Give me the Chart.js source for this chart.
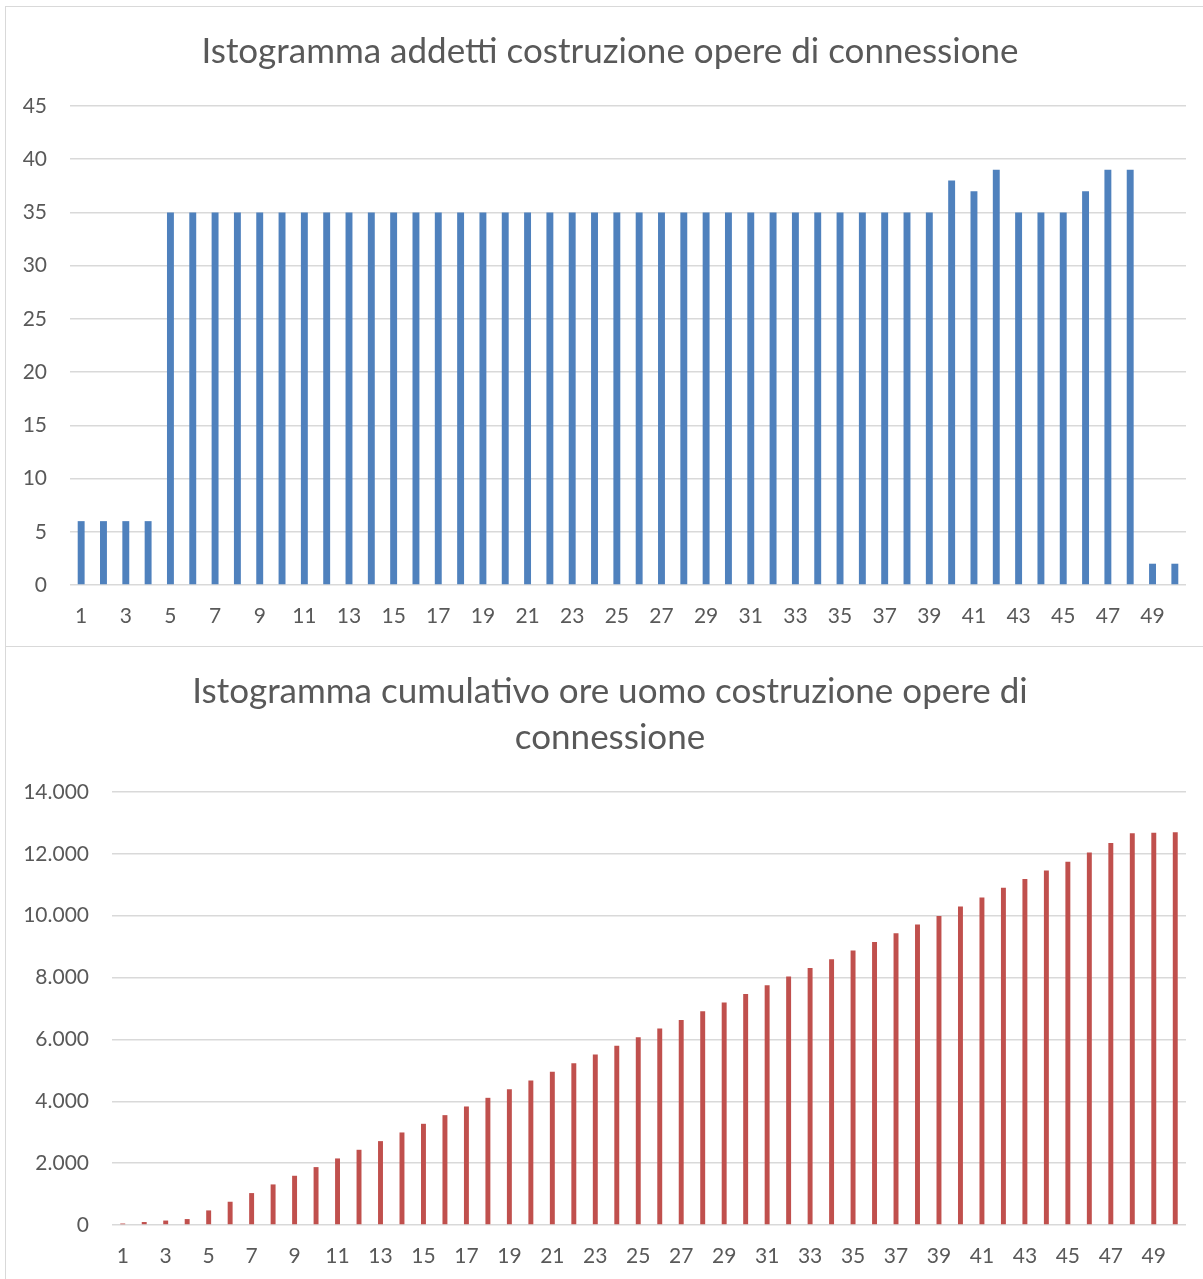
<!DOCTYPE html>
<html>
<head>
<meta charset="utf-8">
<script src="https://cdn.jsdelivr.net/npm/chart.js@4/dist/chart.umd.min.js"></script>
<style>
    html, body { margin: 0; padding: 0; background: #fff; overflow: hidden; }
    .box { position: absolute; left: 5px; width: 1209px; border: 1px solid #d9d9d9; background: #fff; }
    #box1 { top: 6px; height: 639px; }
    #box2 { top: 646px; height: 640px; }
    canvas { display: block; }
</style>
</head>
<body>
<div class="box" id="box1"><canvas id="addetti"></canvas></div>
<div class="box" id="box2"><canvas id="oreUomo"></canvas></div>
<script>
'use strict';

// settimane
const settimane = [1, 2, 3, 4, 5, 6, 7, 8, 9, 10, 11, 12, 13, 14, 15, 16, 17, 18, 19, 20,
    21, 22, 23, 24, 25, 26, 27, 28, 29, 30, 31, 32, 33, 34, 35, 36, 37, 38, 39, 40,
    41, 42, 43, 44, 45, 46, 47, 48, 49, 50];

// addetti per settimana
const addetti = [6, 6, 6, 6, 35, 35, 35, 35, 35, 35, 35, 35, 35, 35, 35, 35, 35, 35, 35, 35,
    35, 35, 35, 35, 35, 35, 35, 35, 35, 35, 35, 35, 35, 35, 35, 35, 35, 35, 35, 38,
    37, 39, 35, 35, 35, 37, 39, 39, 2, 2];

// ore uomo cumulative
const oreCumulative = [48, 96, 144, 192, 472, 752, 1032, 1312, 1592, 1872,
    2152, 2432, 2712, 2992, 3272, 3552, 3832, 4112, 4392, 4672,
    4952, 5232, 5512, 5792, 6072, 6352, 6632, 6912, 7192, 7472,
    7752, 8032, 8312, 8592, 8872, 9152, 9432, 9712, 9992, 10296,
    10592, 10904, 11184, 11464, 11744, 12040, 12352, 12664, 12680, 12696];

const titolo1 = 'Istogramma addetti costruzione opere di connessione';
const titolo2 = ['Istogramma cumulativo ore uomo costruzione opere di', 'connessione'];

const FONT = 'Lato, Calibri, sans-serif';
const TEXT_COLOR = '#595959';
const GRID_COLOR = '#d9d9d9';

/**
 * Formatta con punto per le migliaia (2.000)
 */
function migliaia(v){
    return String(v).replace(/\B(?=(\d{3})+(?!\d))/g, '.');
}

// il titolo in Excel e' centrato su tutta la larghezza del grafico
const centraTitolo = {
    id: 'centraTitolo',
    afterLayout(chart){
        if (chart.titleBlock){
            chart.titleBlock.left = 0;
            chart.titleBlock.right = chart.width - 1;
        }
    }
};

/**
 * Crea un istogramma stile Excel
 */
function creaGrafico(id, w, h, titolo, dati, colore, barPerc, yMax, yStep, yWidth, xHeight){
    let canvas = document.getElementById(id);
    canvas.width = w;
    canvas.height = h;
    canvas.style.width = w + 'px';
    canvas.style.height = h + 'px';
    return new Chart(canvas.getContext('2d'), {
        type: 'bar',
        data: {
            labels: settimane,
            datasets: [{
                data: dati,
                backgroundColor: colore,
                borderWidth: 0,
                categoryPercentage: 1,
                barPercentage: barPerc
            }]
        },
        plugins: [centraTitolo],
        options: {
            responsive: false,
            animation: false,
            layout: { padding: { left: 0, right: 29, top: 0, bottom: 0 } },
            plugins: {
                legend: { display: false },
                tooltip: { enabled: false },
                title: {
                    display: true,
                    text: titolo,
                    color: TEXT_COLOR,
                    font: { family: FONT, size: 35, weight: 'normal', lineHeight: '46px' },
                    padding: { top: 22, bottom: 31 }
                }
            },
            scales: {
                x: {
                    grid: { display: false, drawTicks: false },
                    border: { display: false },
                    ticks: {
                        autoSkip: false,
                        maxRotation: 0,
                        padding: 19,
                        color: TEXT_COLOR,
                        font: { family: FONT, size: 21 },
                        callback: function(v, i){
                            return i % 2 === 0 ? this.getLabelForValue(v) : '';
                        }
                    },
                    afterFit: function(scale){ scale.height = xHeight; }
                },
                y: {
                    min: 0,
                    max: yMax,
                    grid: { color: GRID_COLOR, lineWidth: 1.5, drawTicks: false },
                    border: { display: false },
                    ticks: {
                        stepSize: yStep,
                        padding: 23,
                        color: TEXT_COLOR,
                        font: { family: FONT, size: 21 },
                        callback: function(v){ return migliaia(v); }
                    },
                    afterFit: function(scale){ scale.width = yWidth; }
                }
            }
        }
    });
}

creaGrafico('addetti', 1209, 639, titolo1, addetti, '#4f81bd', 0.31, 45, 5, 64, 61);
creaGrafico('oreUomo', 1209, 640, titolo2, oreCumulative, '#c0504d', 0.23, 14000, 2000, 106, 62);
</script>
</body>
</html>
